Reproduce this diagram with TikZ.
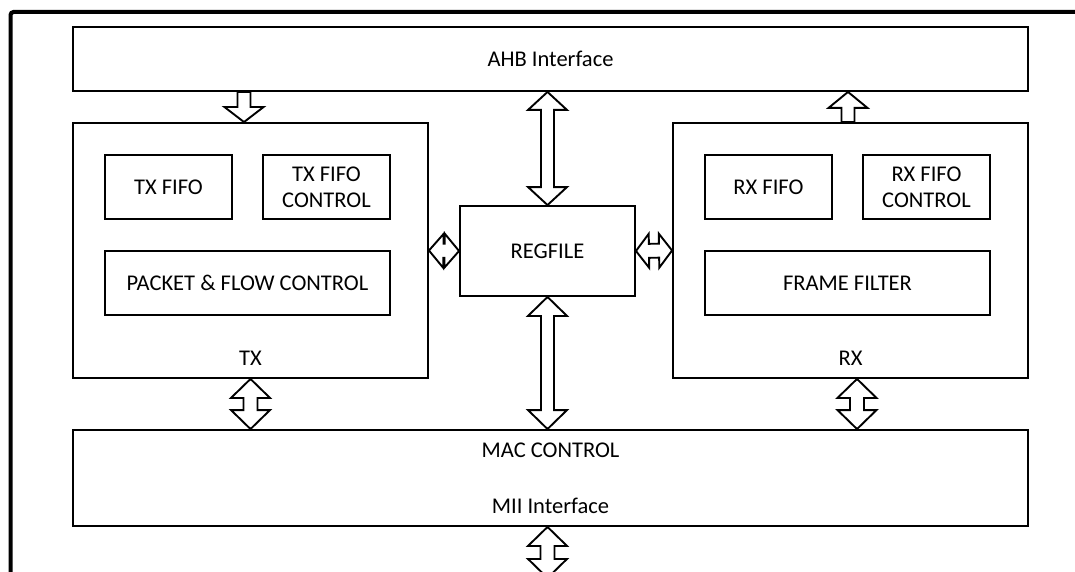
\documentclass[tikz,border=0pt]{standalone}
\usepackage{fontspec}
\setmainfont{Carlito}
\usepackage{tikz}
\usetikzlibrary{positioning,calc}

\tikzset{
  box/.style={draw, line width=1.9pt, inner sep=0pt, align=center,
              font=\fontsize{22.5}{26}\selectfont},
  txt/.style={inner sep=0pt, font=\fontsize{22.5}{26}\selectfont},
  blockarrow/.style={draw, line width=1.9pt, fill=white, line join=miter}
}

% double block arrow: ends #1 and #2, head length #3, head half width #4, shaft half width #5
\newcommand{\dblblock}[5]{%
  \path ($(#1)!#3!(#2)$) coordinate (hA) ($(#2)!#3!(#1)$) coordinate (hB);
  \draw[blockarrow] (#1) -- ($(hA)!#4!90:(#2)$) -- ($(hA)!#5!90:(#2)$)
    -- ($(hB)!#5!-90:(#1)$) -- ($(hB)!#4!-90:(#1)$) -- (#2)
    -- ($(hB)!#4!90:(#1)$) -- ($(hB)!#5!90:(#1)$)
    -- ($(hA)!#5!-90:(#2)$) -- ($(hA)!#4!-90:(#2)$) -- cycle;
}
% single block arrow from #1 to tip #2
\newcommand{\sglblock}[5]{%
  \path ($(#2)!#3!(#1)$) coordinate (hA);
  \draw[blockarrow] ($(#1)!#5!90:(#2)$) -- ($(hA)!#5!90:(#2)$) -- ($(hA)!#4!90:(#2)$)
    -- (#2) -- ($(hA)!#4!-90:(#2)$) -- ($(hA)!#5!-90:(#2)$) -- ($(#1)!#5!-90:(#2)$) -- cycle;
}

\begin{document}
\begin{tikzpicture}[x=1pt, y=-1pt]
            \useasboundingbox (0,0) rectangle (1075,572);
            \clip (0,0) rectangle (1075,572);
            % Outer frame
            \draw[line width=4pt, rounded corners=3pt] (10.5,572) -- (10.5,12) -- (1075,12);
            % AHB interface at top
            \node[box, minimum width=955pt, minimum height=64pt] (ahb) at (550.5,59) {AHB Interface};
            % TX block
            \node[box, minimum width=355pt, minimum height=255pt] (tx) at (250.5,250.5) {};
            \node[box, minimum width=127pt, minimum height=64pt] (txfifo) at (168.5,187) {TX FIFO};
            \node[box, minimum width=127pt, minimum height=64pt] (txfifoctl) at (326.5,187) {TX FIFO\\CONTROL};
            \node[box, minimum width=285pt, minimum height=64pt] (pktflow) at (247.5,283) {PACKET \& FLOW CONTROL};
            \node[txt] (txlbl) at ([yshift=21pt]tx.south) {TX};
            % Register file
            \node[box, minimum width=175pt, minimum height=90pt] (regfile) at (547.5,251) {REGFILE};
            % RX block
            \node[box, minimum width=355pt, minimum height=255pt] (rx) at (850.5,250.5) {};
            \node[box, minimum width=127pt, minimum height=64pt] (rxfifo) at (768.5,187) {RX FIFO};
            \node[box, minimum width=127pt, minimum height=64pt] (rxfifoctl) at (926.5,187) {RX FIFO\\CONTROL};
            \node[box, minimum width=285pt, minimum height=64pt] (frmfilt) at (847.5,283) {FRAME FILTER};
            \node[txt] (rxlbl) at ([yshift=21pt]rx.south) {RX};
            % MAC control / MII at bottom
            \node[box, minimum width=955pt, minimum height=96pt] (mac) at (550.5,478) {};
            \node[txt] (macctl) at ([yshift=-21pt]mac.north) {MAC CONTROL};
            \node[txt] (miiif) at ([yshift=21pt]mac.south) {MII Interface};
            % Arrows between AHB and TX / RX
            \coordinate (txin) at ([xshift=-6.5pt]tx.north);
            \coordinate (ahbtx) at (txin |- ahb.south);
            \sglblock{ahbtx}{txin}{15pt}{19.5pt}{6.5pt}
            \coordinate (rxout) at ([xshift=-2.5pt]rx.north);
            \coordinate (ahbrx) at (rxout |- ahb.south);
            \sglblock{rxout}{ahbrx}{16pt}{19.5pt}{6.5pt}
            % Arrows to register file
            \coordinate (ahbreg) at (regfile.north |- ahb.south);
            \dblblock{ahbreg}{regfile.north}{18pt}{19.5pt}{6.5pt}
            \coordinate (macreg) at (regfile.south |- mac.north);
            \dblblock{regfile.south}{macreg}{19pt}{19.5pt}{6.5pt}
            \dblblock{tx.east}{regfile.west}{14.5pt}{17pt}{7pt}
            \dblblock{regfile.east}{rx.west}{13pt}{17pt}{7pt}
            % Arrows to MAC control
            \coordinate (mactx) at (tx.south |- mac.north);
            \dblblock{tx.south}{mactx}{19pt}{19.5pt}{7pt}
            \coordinate (rxdn) at ([xshift=6.5pt]rx.south);
            \coordinate (macrx) at (rxdn |- mac.north);
            \dblblock{rxdn}{macrx}{19pt}{19.5pt}{7pt}
            % Arrow out of MII
            \coordinate (miiout) at (regfile.south |- mac.south);
            \coordinate (phy) at ([yshift=-51pt]miiout);
            \dblblock{miiout}{phy}{19pt}{19.5pt}{7pt}
          \end{tikzpicture}
\end{document}
